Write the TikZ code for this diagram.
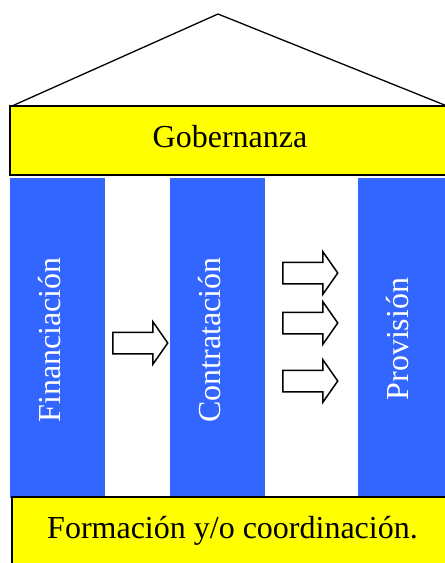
\documentclass[tikz,border=0pt]{standalone}
\usepackage{fontspec}
\setmainfont{Liberation Serif}
\usetikzlibrary{shapes.arrows}
\definecolor{pillarblue}{RGB}{51,102,255}
\definecolor{beamyellow}{RGB}{255,255,0}
\tikzset{
	pillar/.style={fill=pillarblue,draw=none,minimum width=95pt,minimum height=320pt,inner sep=0pt},
	beam/.style={fill=beamyellow,draw=black,line width=1.8pt,inner sep=0pt},
	pillartext/.style={rotate=90,anchor=base,text=white,inner sep=0pt,font=\fontsize{32}{38}\selectfont},
	beamtext/.style={anchor=base,inner sep=0pt,font=\fontsize{32}{38}\selectfont},
	blockarrow/.style={single arrow,draw=black,fill=white,line width=1.5pt,minimum height=55pt,
		inner xsep=0pt,inner ysep=10pt,single arrow head extend=10.5pt,single arrow tip angle=110,anchor=tail}
}
\begin{document}
\begin{tikzpicture}[x=1pt,y=-1pt]
		\useasboundingbox (0,0) rectangle (445,563);
		\clip (0,0) rectangle (445,563);
		
		% techo
		\draw[line width=1.3pt,line join=round] (12,106) -- (218,14) -- (447,106);
		\node[beam,minimum width=440pt,minimum height=69pt] (gob) at (230,140.5) {};
		\node[beamtext] (gobtext) at (230,147) {Gobernanza};
		
		% columnas
		\node[pillar] (fin) at (57.5,338) {};
		\node[pillar] (con) at (217.5,338) {};
		\node[pillar] (pro) at (405.5,338) {};
		\node[pillartext] (fintext) at (60,340) {Financiación};
		\node[pillartext] (context) at (220,340) {Contratación};
		\node[pillartext] (protext) at (408,339) {Provisión};
		
		% flechas
		\node[blockarrow] (a1) at (112,343) {};
		\foreach \n/\y in {2/273,3/323,4/381}
			\node[blockarrow] (a\n) at (282,\y) {};
		
		% base
		\node[beam,minimum width=441pt,minimum height=103pt] (form) at (232.5,548.5) {};
		\node[beamtext] (formtext) at (232.5,538) {Formación y/o coordinación.};
	\end{tikzpicture}
\end{document}
